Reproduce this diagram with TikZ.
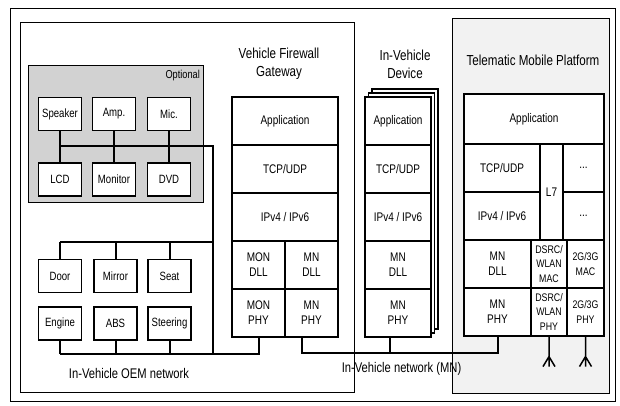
\documentclass[tikz,border=0pt]{standalone}
\usepackage{fontspec}
\setmainfont{Liberation Sans}[FakeStretch=0.8]
\usetikzlibrary{positioning}

\begin{document}
\begin{tikzpicture}[
  x=1pt, y=-1pt,
  box/.style={draw, fill=white, line width=1.1pt, inner sep=0pt, align=center,
              font=\fontsize{12}{14}\selectfont},
  ecu/.style={box, minimum width=43pt, minimum height=33pt},
  layer/.style={box, minimum height=48pt, font=\fontsize{12.5}{15}\selectfont},
  cell/.style={box, minimum height=48pt, font=\fontsize{11}{14.5}\selectfont},
  ttl/.style={align=center, font=\fontsize{14.5}{18}\selectfont, inner sep=0pt},
  net/.style={font=\fontsize{14}{16}\selectfont, inner sep=0pt},
  bus/.style={line width=2pt},
  frame/.style={line width=1pt},
]
  \useasboundingbox (0,0) rectangle (620,405);

  % Frames
  \draw[frame] (10,8) rectangle (615,401);
  \draw[frame] (20,22) rectangle (354,392);
  \draw[frame, fill=gray!10] (452,18) rectangle (609,393);
  \draw[frame, fill=gray!35] (28,65) rectangle (203,202);
  \node[font=\fontsize{11.5}{13}\selectfont, anchor=north east, inner sep=0pt] (optlbl) at (200,70) {Optional};

  % Optional devices
  \node[ecu] (spk) at (60,114)  {Speaker};
  \node[ecu] (amp) at (114,114) {Amp.};
  \node[ecu] (mic) at (169,114) {Mic.};
  \node[ecu] (lcd) at (60,179.5)  {LCD};
  \node[ecu] (mon) at (114,179.5) {Monitor};
  \node[ecu] (dvd) at (169,179.5) {DVD};

  % OEM devices
  \node[ecu] (door)  at (60,276)    {Door};
  \node[ecu] (mirr)  at (115.5,276) {Mirror};
  \node[ecu] (seat)  at (169.5,276) {Seat};
  \node[ecu] (eng)   at (60,323.5)    {Engine};
  \node[ecu] (abs)   at (115.5,323.5) {ABS};
  \node[ecu] (steer) at (169.5,323.5) {Steering};
  \node[net] (oemlbl) at (129,373) {In-Vehicle OEM network};

  % Gateway stack
  \node[ttl] (gwttl) at (279,64) {Vehicle Firewall\\Gateway};
  \node[layer, minimum width=106pt] (gapp) at (285,121) {Application};
  \node[layer, minimum width=106pt] (gtcp) at (285,169) {TCP/UDP};
  \node[layer, minimum width=106pt] (gip)  at (285,217) {IPv4 / IPv6};
  \node[layer, minimum width=53pt] (gmondll) at (258.5,265) {MON\\DLL};
  \node[layer, minimum width=53pt] (gmndll)  at (311.5,265) {MN\\DLL};
  \node[layer, minimum width=53pt] (gmonphy) at (258.5,313) {MON\\PHY};
  \node[layer, minimum width=53pt] (gmnphy)  at (311.5,313) {MN\\PHY};

  % In-vehicle device stack
  \node[ttl] (devttl) at (405,64) {In-Vehicle\\Device};
  \node[box, minimum width=66pt, minimum height=240pt] (dback2) at (405,209) {};
  \node[box, minimum width=66pt, minimum height=240pt] (dback1) at (401.5,213) {};
  \node[layer, minimum width=66pt] (dapp) at (398,121) {Application};
  \node[layer, minimum width=66pt] (dtcp) at (398,169) {TCP/UDP};
  \node[layer, minimum width=66pt] (dip)  at (398,217) {IPv4 / IPv6};
  \node[layer, minimum width=66pt] (ddll) at (398,265) {MN\\DLL};
  \node[layer, minimum width=66pt] (dphy) at (398,313) {MN\\PHY};

  % Telematic platform stack
  \node[ttl] (tmttl) at (533,60) {Telematic Mobile Platform};
  \node[layer, minimum width=140pt, minimum height=50pt] (tapp) at (534,119) {Application};
  \node[layer, minimum width=76pt] (ttcp) at (502,168) {TCP/UDP};
  \node[layer, minimum width=76pt] (tip)  at (502,216) {IPv4 / IPv6};
  \node[layer, minimum width=23pt, minimum height=96pt] (tl7) at (551.5,192) {L7};
  \node[layer, minimum width=41pt] (tdots1) at (583.5,168) {...};
  \node[layer, minimum width=41pt] (tdots2) at (583.5,216) {...};
  \node[layer, minimum width=67pt] (tmndll) at (497.5,264) {MN\\DLL};
  \node[cell, minimum width=36pt]  (tdmac)  at (549,264)   {DSRC/\\WLAN\\MAC};
  \node[cell, minimum width=37pt]  (tgmac)  at (585.5,264) {2G/3G\\MAC};
  \node[layer, minimum width=67pt] (tmnphy) at (497.5,312) {MN\\PHY};
  \node[cell, minimum width=36pt]  (tdphy)  at (549,312)   {DSRC/\\WLAN\\PHY};
  \node[cell, minimum width=37pt]  (tgphy)  at (585.5,312) {2G/3G\\PHY};

  % OEM buses
  \coordinate (optj) at (213,146);
  \coordinate (oemtop) at (213,242);
  \coordinate (oembot) at (213,354);
  \foreach \u/\l in {spk/lcd, amp/mon, mic/dvd} { \draw[bus] (\u.south) -- (\l.north); }
  \draw[bus] (spk.south |- optj) -- (optj) -- (oembot);
  \draw[bus] (door.north |- oemtop) -- (oemtop);
  \foreach \s in {door, mirr, seat} { \draw[bus] (\s.north) -- (\s.north |- oemtop); }
  \draw[bus] (eng.south |- oembot) -- (gmonphy.south |- oembot) -- (gmonphy.south);
  \foreach \s in {eng, abs, steer} { \draw[bus] (\s.south) -- (\s.south |- oembot); }

  % In-vehicle network
  \coordinate (ivn) at (0,353);
  \draw[bus] ([xshift=-10pt]gmnphy.south) -- ([xshift=-10pt]gmnphy.south |- ivn)
             -- (tmnphy.south |- ivn) -- (tmnphy.south);
  \draw[bus] ([xshift=-8pt]dphy.south) -- ([xshift=-8pt]dphy.south |- ivn);
  \node[net] (ivnlbl) at (401.5,369) {In-Vehicle network (MN)};

  % Antennas
  \foreach \a in {tdphy, tgphy} {
    \draw[line width=1.5pt] (\a.south) -- ++(0,30)
      (\a.south) ++(0,20) -- ++(-6,10) (\a.south) ++(0,20) -- ++(6,10);
  }
\end{tikzpicture}
\end{document}
